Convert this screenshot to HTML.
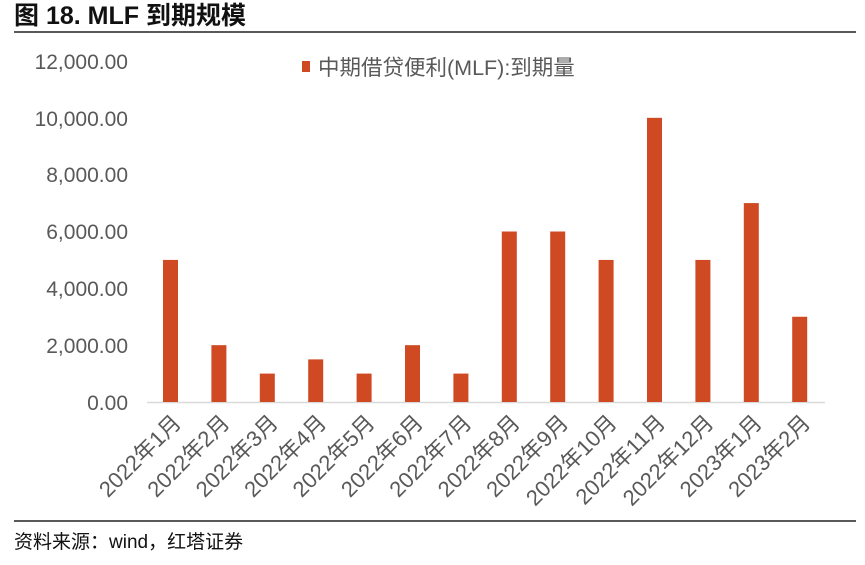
<!DOCTYPE html>
<html><head><meta charset="utf-8"><style>
body{margin:0;background:#fff;}
svg text{font-family:"Liberation Sans","Noto Sans CJK SC",sans-serif;}
</style></head><body>
<svg width="865" height="560" xmlns="http://www.w3.org/2000/svg">
<text x="14" y="24" font-size="25" font-weight="bold" fill="#111">图 18. MLF 到期规模</text>
<line x1="14" y1="32" x2="856" y2="32" stroke="#222" stroke-width="1.5"/>
<g font-size="21" fill="#595959" text-anchor="end">
<text x="128" y="410">0.00</text>
<text x="128" y="353">2,000.00</text>
<text x="128" y="296">4,000.00</text>
<text x="128" y="239">6,000.00</text>
<text x="128" y="182">8,000.00</text>
<text x="128" y="126">10,000.00</text>
<text x="128" y="69">12,000.00</text>
</g>
<rect x="302" y="61" width="8" height="11" fill="#cf4a22"/>
<text x="318" y="75" font-size="21.5" fill="#595959">中期借贷便利(MLF):到期量</text>
<line x1="147" y1="402.5" x2="825" y2="402.5" stroke="#d9d9d9" stroke-width="1.5"/>
<g fill="#cf4a22" id="bars"></g>
<g font-size="22" fill="#595959" id="labels"></g>
<line x1="14" y1="521" x2="856" y2="521" stroke="#222" stroke-width="1.5"/>
<text x="14" y="548" font-size="19" fill="#111">资料来源：wind，红塔证券</text>
<script>
var v=[5000,2000,1000,1500,1000,2000,1000,6000,6000,5000,10000,5000,7000,3000];
var l=["2022年1月","2022年2月","2022年3月","2022年4月","2022年5月","2022年6月","2022年7月","2022年8月","2022年9月","2022年10月","2022年11月","2022年12月","2023年1月","2023年2月"];
var b=document.getElementById('bars'),t=document.getElementById('labels'),ns='http://www.w3.org/2000/svg';
for(var i=0;i<14;i++){var c=170.5+i*48.4;var h=v[i]/12000*341;
var r=document.createElementNS(ns,'rect');r.setAttribute('x',c-7.5);r.setAttribute('y',402-h);r.setAttribute('width',15);r.setAttribute('height',h);b.appendChild(r);
var s=document.createElementNS(ns,'text');s.setAttribute('text-anchor','end');s.setAttribute('transform','translate('+(c+12)+',424) rotate(-45)');s.textContent=l[i];t.appendChild(s);}
</script>
</svg>
</body></html>
